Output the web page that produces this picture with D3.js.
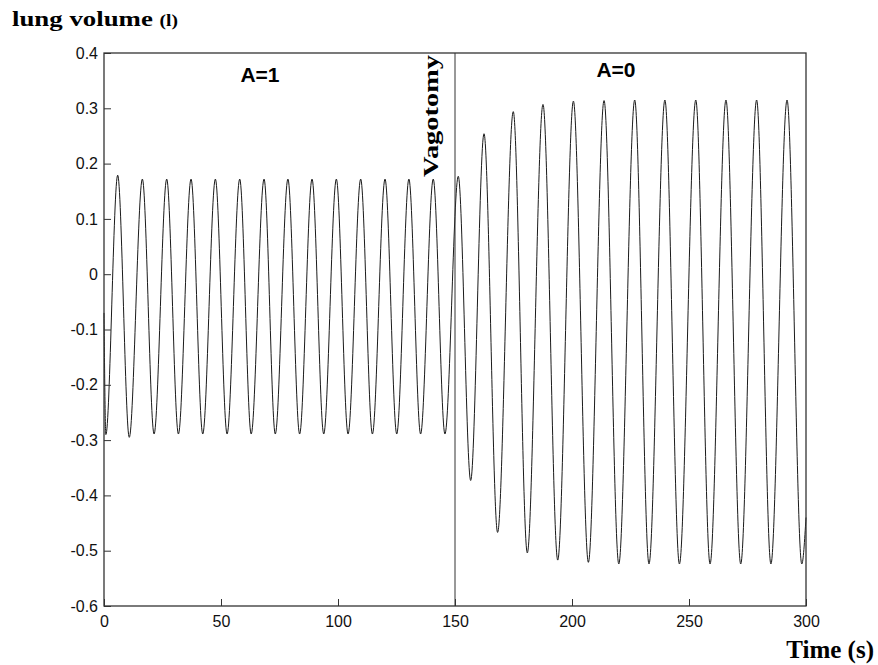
<!DOCTYPE html>
<html>
<head>
<meta charset="utf-8">
<script src="https://cdn.jsdelivr.net/npm/d3@7"></script>
<style>
    body { margin: 0; background: #fff; }
    svg { display: block; }
    .tick-label { font-family: "Liberation Sans", Arial, sans-serif; font-size: 15px; fill: #111; }
    .serif-bold { font-family: "Liberation Serif", "Times New Roman", serif; font-weight: bold; fill: #000; }
    .phase { font-family: "Liberation Sans", Arial, sans-serif; font-weight: bold; font-size: 21px; fill: #000; }
</style>
</head>
<body>
<div id="chart"></div>
<script>
// Valores (tempo em s, volume em l)
const startPoint = [0, -0.07];
const endPoint = [300, -0.44];

const peakTimes = [5.85, 16.4, 26.8, 37.2, 47.6, 58.0, 68.4, 78.6, 88.9, 99.3, 109.7, 120.1, 130.3, 140.7,
    151.4, 162.4, 174.9, 187.6, 200.6, 213.7, 226.8, 239.7, 252.9, 265.8, 278.9, 291.9];
const peakValues = [0.179, 0.172, 0.172, 0.172, 0.172, 0.172, 0.172, 0.172, 0.172, 0.172, 0.172, 0.172, 0.172, 0.172,
    0.177, 0.254, 0.294, 0.307, 0.313, 0.314, 0.315, 0.315, 0.315, 0.315, 0.315, 0.315];

const troughTimes = [0.8, 10.8, 21.4, 31.8, 42.2, 52.6, 62.9, 73.2, 83.6, 93.9, 104.3, 114.7, 125.1, 135.3, 145.7,
    156.7, 168.2, 180.9, 193.9, 207.0, 220.0, 232.9, 245.9, 259.0, 272.1, 285.0, 298.2];
const troughValues = [-0.29, -0.295, -0.289, -0.289, -0.289, -0.289, -0.289, -0.289, -0.289, -0.289, -0.289, -0.289, -0.289, -0.289, -0.289,
    -0.373, -0.467, -0.504, -0.517, -0.521, -0.524, -0.524, -0.524, -0.524, -0.524, -0.524, -0.524];

const xTicks = [0, 50, 100, 150, 200, 250, 300];
const yTicks = [-0.6, -0.5, -0.4, -0.3, -0.2, -0.1, 0, 0.1, 0.2, 0.3, 0.4];
const vagotomyTime = 150;

// Juntar extremos numa única série ordenada
const series = [startPoint]
    .concat(peakTimes.map((t, i) => [t, peakValues[i]]))
    .concat(troughTimes.map((t, i) => [t, troughValues[i]]))
    .concat([endPoint])
    .sort((a, b) => a[0] - b[0]);

const width = 878;
const height = 665;
const margin = {top: 53, right: 72, bottom: 59, left: 104};

const svg = d3.select('#chart')
    .append('svg')
    .attr('width', width)
    .attr('height', height);

// Escalas
const x = d3.scaleLinear()
    .domain([0, 300])
    .range([margin.left, width - margin.right]);

const y = d3.scaleLinear()
    .domain([-0.6, 0.4])
    .range([height - margin.bottom, margin.top]);

// Curva do volume pulmonar
const line = d3.line()
    .x(d => x(d[0]))
    .y(d => y(d[1]))
    .curve(d3.curveMonotoneX);

svg.append('path')
    .datum(series)
    .attr('fill', 'none')
    .attr('stroke', '#1a1a1a')
    .attr('stroke-width', 1)
    .attr('d', line);

// Linha da vagotomia
svg.append('line')
    .attr('x1', x(vagotomyTime))
    .attr('x2', x(vagotomyTime))
    .attr('y1', y(-0.6))
    .attr('y2', y(0.4))
    .attr('stroke', '#333')
    .attr('stroke-width', 1);

// Eixos (ticks para dentro, estilo MATLAB)
const yFormat = d => d === 0 ? '0' : d3.format('.1f')(d).replace('\u2212', '-');

const xAxis = svg.append('g')
    .attr('transform', `translate(0,${y(-0.6)})`)
    .call(d3.axisBottom(x).tickValues(xTicks).tickSize(-7).tickPadding(10).tickFormat(d3.format('d')));

const yAxis = svg.append('g')
    .attr('transform', `translate(${x(0)},0)`)
    .call(d3.axisLeft(y).tickValues(yTicks).tickSize(-7).tickPadding(6).tickFormat(yFormat));

[xAxis, yAxis].forEach(axis => {
    axis.attr('font-size', 16).attr('font-family', 'Liberation Sans, Arial, sans-serif');
    axis.select('.domain').remove();
    axis.selectAll('.tick line').attr('stroke', '#333');
    axis.selectAll('.tick text').attr('fill', '#111');
});

// Caixa do gráfico
svg.append('rect')
    .attr('x', x(0))
    .attr('y', y(0.4))
    .attr('width', x(300) - x(0))
    .attr('height', y(-0.6) - y(0.4))
    .attr('fill', 'none')
    .attr('stroke', '#333')
    .attr('stroke-width', 1.3);

// Textos
svg.append('text')
    .attr('class', 'phase')
    .attr('x', 260)
    .attr('y', 82)
    .attr('text-anchor', 'middle')
    .text('A=1');

svg.append('text')
    .attr('class', 'phase')
    .attr('x', 616)
    .attr('y', 77)
    .attr('text-anchor', 'middle')
    .text('A=0');

svg.append('text')
    .attr('class', 'serif-bold')
    .attr('transform', `translate(438,177) rotate(-90)`)
    .attr('font-size', 22)
    .attr('textLength', 122)
    .attr('lengthAdjust', 'spacingAndGlyphs')
    .text('Vagotomy');

const yTitle = svg.append('text')
    .attr('class', 'serif-bold')
    .attr('transform', 'translate(12,26) scale(1.22,1)')
    .attr('font-size', 22);
yTitle.append('tspan').text('lung volume ');
yTitle.append('tspan').attr('font-size', 16).text('(l)');

svg.append('text')
    .attr('class', 'serif-bold')
    .attr('x', 874)
    .attr('y', 658)
    .attr('text-anchor', 'end')
    .attr('font-size', 25)
    .text('Time (s)');
</script>
</body>
</html>
